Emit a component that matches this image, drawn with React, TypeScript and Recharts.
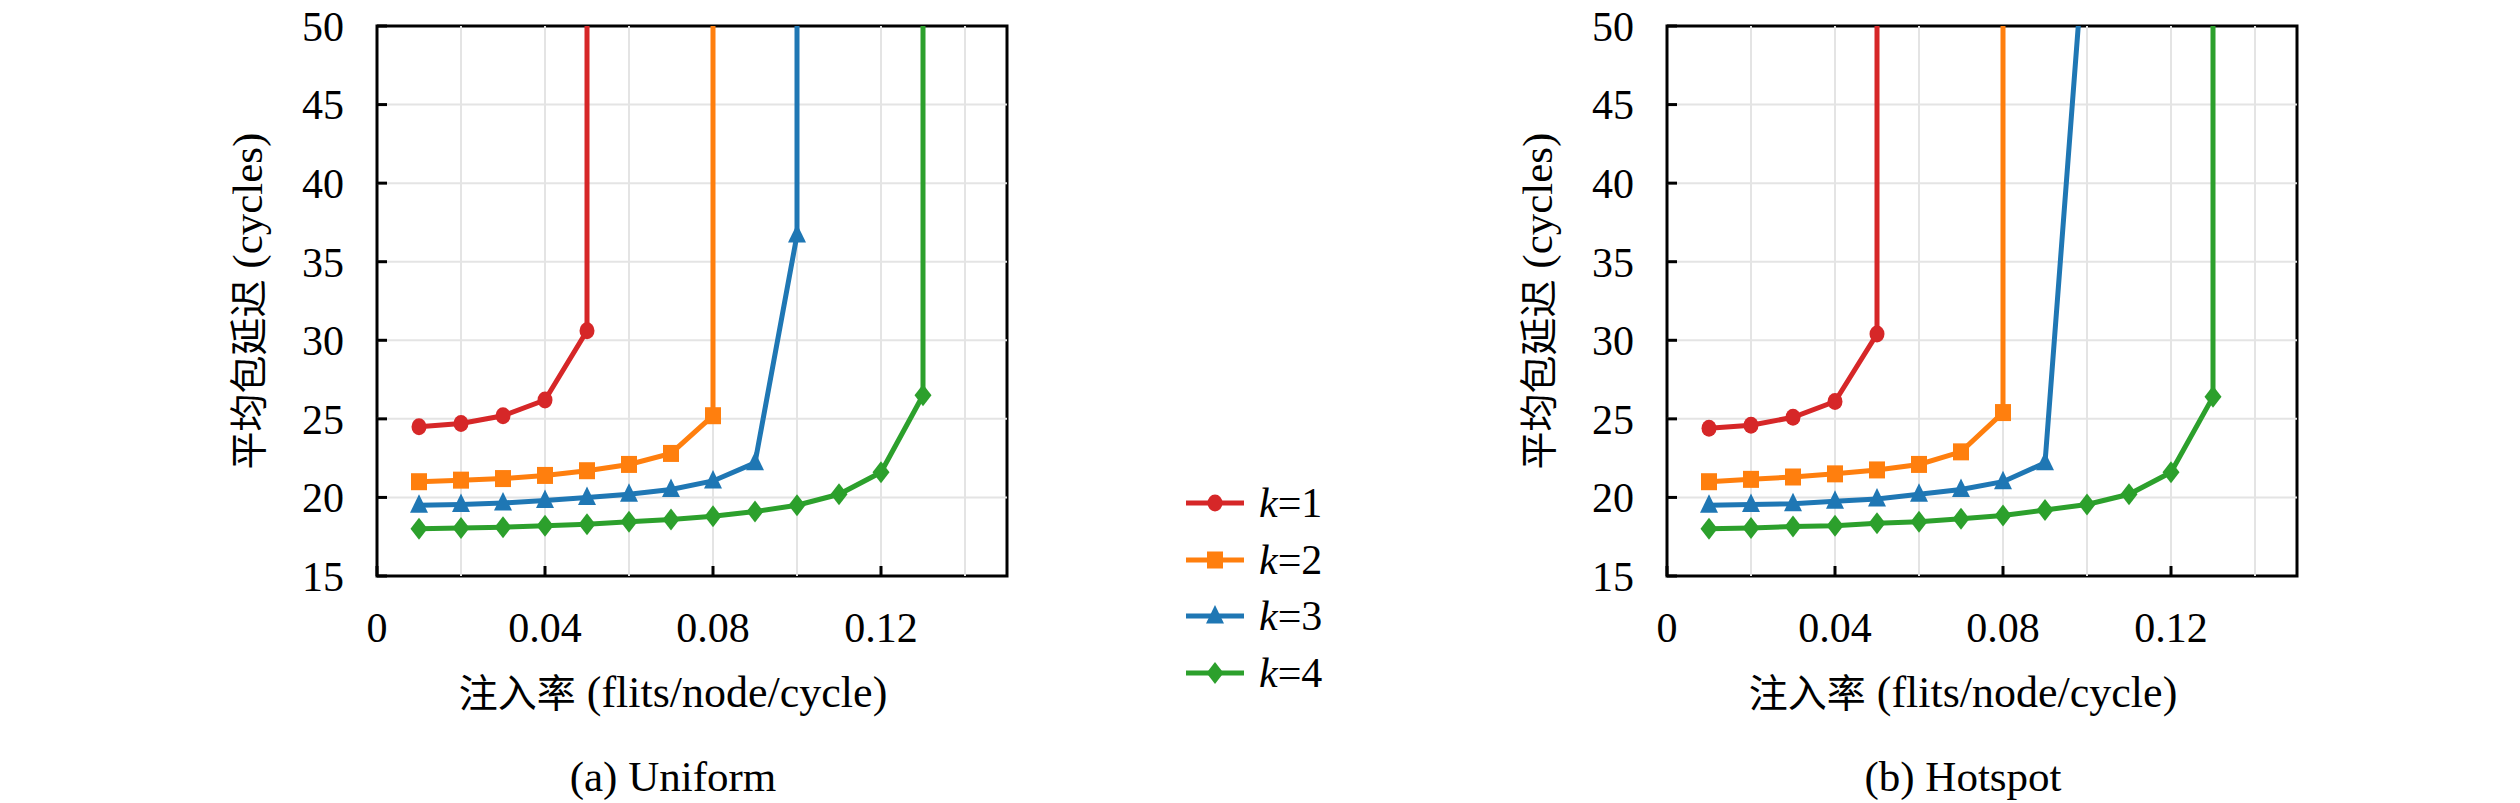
import React from 'react';
import { LineChart, Line, XAxis, YAxis, ReferenceLine, ReferenceArea, Legend } from 'recharts';

const FONT = '"Liberation Serif", "Times New Roman", "DejaVu Serif", serif';
const CJK = '"Noto Sans CJK SC", sans-serif';

const SERIES_NAMES = ['k=1', 'k=2', 'k=3', 'k=4'];
const SERIES_COLORS = ['#d62728', '#ff7f0e', '#1f77b4', '#2ca02c'];
const SERIES_SHAPES = ['circle', 'square', 'triangle', 'diamond'];

// Uniform traffic
const uniformRates1 = [0.01, 0.02, 0.03, 0.04, 0.05, 0.05];
const uniformLatency1 = [24.5, 24.7, 25.2, 26.2, 30.6, 100];
const uniformRates2 = [0.01, 0.02, 0.03, 0.04, 0.05, 0.06, 0.07, 0.08, 0.08];
const uniformLatency2 = [21.0, 21.1, 21.2, 21.4, 21.7, 22.1, 22.8, 25.2, 100];
const uniformRates3 = [0.01, 0.02, 0.03, 0.04, 0.05, 0.06, 0.07, 0.08, 0.09, 0.1, 0.1];
const uniformLatency3 = [19.5, 19.55, 19.65, 19.8, 20.0, 20.2, 20.5, 21.05, 22.2, 36.7, 100];
const uniformRates4 = [0.01, 0.02, 0.03, 0.04, 0.05, 0.06, 0.07, 0.08, 0.09, 0.1, 0.11, 0.12, 0.13, 0.13];
const uniformLatency4 = [18.0, 18.05, 18.1, 18.2, 18.3, 18.45, 18.6, 18.8, 19.1, 19.5, 20.2, 21.6, 26.5, 100];

// Hotspot traffic
const hotspotRates1 = [0.01, 0.02, 0.03, 0.04, 0.05, 0.05];
const hotspotLatency1 = [24.4, 24.6, 25.1, 26.1, 30.4, 100];
const hotspotRates2 = [0.01, 0.02, 0.03, 0.04, 0.05, 0.06, 0.07, 0.08, 0.08];
const hotspotLatency2 = [21.0, 21.15, 21.3, 21.5, 21.75, 22.1, 22.9, 25.4, 100];
const hotspotRates3 = [0.01, 0.02, 0.03, 0.04, 0.05, 0.06, 0.07, 0.08, 0.09, 0.1];
const hotspotLatency3 = [19.5, 19.55, 19.6, 19.75, 19.9, 20.2, 20.5, 21.0, 22.2, 57.3];
const hotspotRates4 = [0.01, 0.02, 0.03, 0.04, 0.05, 0.06, 0.07, 0.08, 0.09, 0.1, 0.11, 0.12, 0.13, 0.13];
const hotspotLatency4 = [18.0, 18.05, 18.15, 18.2, 18.35, 18.45, 18.65, 18.85, 19.2, 19.55, 20.2, 21.6, 26.4, 100];

const X_TICKS = [0, 0.04, 0.08, 0.12];
const Y_TICKS = [15, 20, 25, 30, 35, 40, 45, 50];
const X_GRID = [0.02, 0.04, 0.06, 0.08, 0.1, 0.12, 0.14];
const Y_GRID = [20, 25, 30, 35, 40, 45];
const X_DOMAIN = [0, 0.15];
const Y_DOMAIN = [15, 50];

const zip = (xs: number[], ys: number[]) => xs.map((x, i) => ({ x, y: ys[i] }));

const uniformSeries = [
  zip(uniformRates1, uniformLatency1),
  zip(uniformRates2, uniformLatency2),
  zip(uniformRates3, uniformLatency3),
  zip(uniformRates4, uniformLatency4),
];
const hotspotSeries = [
  zip(hotspotRates1, hotspotLatency1),
  zip(hotspotRates2, hotspotLatency2),
  zip(hotspotRates3, hotspotLatency3),
  zip(hotspotRates4, hotspotLatency4),
];

function Marker({ shape, cx, cy, color }: any) {
  if (shape === 'circle') return <ellipse cx={cx} cy={cy} rx={7.5} ry={8.5} fill={color} />;
  if (shape === 'square') return <rect x={cx - 8} y={cy - 8.5} width={16} height={17} fill={color} />;
  if (shape === 'triangle')
    return <polygon points={`${cx},${cy - 11} ${cx + 9},${cy + 7.5} ${cx - 9},${cy + 7.5}`} fill={color} />;
  return <polygon points={`${cx},${cy - 11} ${cx + 8.5},${cy} ${cx},${cy + 11} ${cx - 8.5},${cy}`} fill={color} />;
}

const makeDot = (shape: string, color: string) => (props: any) => {
  const { cx, cy, index, payload } = props;
  if (cx == null || cy == null || payload.y > Y_DOMAIN[1]) return <g key={`d-${index}`} />;
  return (
    <g key={`d-${index}`}>
      <Marker shape={shape} cx={cx} cy={cy} color={color} />
    </g>
  );
};

const renderLegend = (props: any) => {
  const { payload } = props;
  return (
    <div style={{ fontFamily: FONT }}>
      {(payload || []).map((entry: any, i: number) => {
        const idx = SERIES_NAMES.indexOf(entry.value);
        const color = SERIES_COLORS[idx];
        const v = String(entry.value);
        return (
          <div key={i} style={{ display: 'flex', alignItems: 'center', height: 56.5 }}>
            <svg width={58} height={30}>
              <line x1={0} y1={15} x2={58} y2={15} stroke={color} strokeWidth={5} />
              <Marker shape={SERIES_SHAPES[idx]} cx={29} cy={15} color={color} />
            </svg>
            <span style={{ marginLeft: 15, fontSize: 42, lineHeight: '42px', color: '#000' }}>
              <i>{v[0]}</i>
              {v.slice(1)}
            </span>
          </div>
        );
      })}
    </div>
  );
};

function Panel({ series, width, marginLeft, marginRight, showLegend }: any) {
  return (
    <LineChart
      width={width}
      height={803}
      margin={{ top: 26, right: marginRight, bottom: 167, left: marginLeft }}
      style={{ fontFamily: FONT }}
    >
      {X_GRID.map((g) => (
        <ReferenceLine key={`gx${g}`} x={g} stroke="#e4e4e4" strokeWidth={2} />
      ))}
      {Y_GRID.map((g) => (
        <ReferenceLine key={`gy${g}`} y={g} stroke="#e4e4e4" strokeWidth={2} />
      ))}
      <XAxis
        type="number"
        dataKey="x"
        domain={X_DOMAIN}
        ticks={X_TICKS}
        allowDataOverflow
        height={60}
        axisLine={false}
        tickSize={-10}
        tickMargin={46}
        tickLine={{ stroke: '#000', strokeWidth: 3 }}
        tickFormatter={(v: number) => (v === 0 ? '0' : String(v))}
        tick={{ fontSize: 42, fill: '#000', fontFamily: FONT }}
      />
      <YAxis
        type="number"
        dataKey="y"
        domain={Y_DOMAIN}
        ticks={Y_TICKS}
        allowDataOverflow
        width={100}
        axisLine={false}
        tickSize={-10}
        tickMargin={43}
        tickLine={{ stroke: '#000', strokeWidth: 3 }}
        tick={{ fontSize: 42, fill: '#000', fontFamily: FONT }}
      />
      {series.map((data: any[], i: number) => (
        <Line
          key={SERIES_NAMES[i]}
          name={SERIES_NAMES[i]}
          data={data}
          dataKey="y"
          type="linear"
          stroke={SERIES_COLORS[i]}
          strokeWidth={5}
          dot={makeDot(SERIES_SHAPES[i], SERIES_COLORS[i])}
          activeDot={false}
          isAnimationActive={false}
        />
      ))}
      <ReferenceArea
        x1={X_DOMAIN[0]}
        x2={X_DOMAIN[1]}
        y1={Y_DOMAIN[0]}
        y2={Y_DOMAIN[1]}
        fill="none"
        fillOpacity={0}
        stroke="#000"
        strokeWidth={3}
      />
      {showLegend && (
        <Legend
          layout="vertical"
          align="center"
          verticalAlign="middle"
          content={renderLegend}
          wrapperStyle={{ left: 1186, top: 475, width: 200, height: 230 }}
        />
      )}
    </LineChart>
  );
}

const textBase: React.CSSProperties = {
  position: 'absolute',
  transform: 'translate(-50%, -50%)',
  whiteSpace: 'nowrap',
  fontFamily: FONT,
  color: '#000',
  lineHeight: 1,
};

function Labels({ dx, caption }: { dx: number; caption: string }) {
  return (
    <>
      <div style={{ ...textBase, left: 247 + dx, top: 301, transform: 'translate(-50%, -50%) rotate(-90deg)' }}>
        <span style={{ fontFamily: CJK, fontSize: 38 }}>平均包延迟</span>
        <span style={{ fontSize: 43 }}> (cycles)</span>
      </div>
      <div style={{ ...textBase, left: 673 + dx, top: 693 }}>
        <span style={{ fontFamily: CJK, fontSize: 39 }}>注入率</span>
        <span style={{ fontSize: 44 }}> (flits/node/cycle)</span>
      </div>
      <div style={{ ...textBase, left: 673 + dx, top: 776, fontSize: 43 }}>{caption}</div>
    </>
  );
}

export default function App() {
  return (
    <div style={{ position: 'absolute', left: 0, top: 0, width: 2520, height: 803, background: '#fff', overflow: 'hidden', fontFamily: FONT }}>
      <div style={{ position: 'absolute', left: 0, top: 0 }}>
        <Panel series={uniformSeries} width={1400} marginLeft={277} marginRight={393} showLegend />
      </div>
      <div style={{ position: 'absolute', left: 1400, top: 0 }}>
        <Panel series={hotspotSeries} width={1120} marginLeft={167} marginRight={223} showLegend={false} />
      </div>
      <Labels dx={0} caption="(a) Uniform" />
      <Labels dx={1290} caption="(b) Hotspot" />
    </div>
  );
}
